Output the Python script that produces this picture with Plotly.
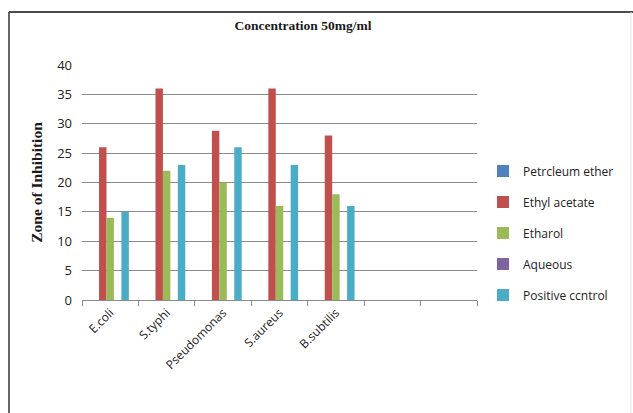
import plotly.graph_objects as go

categories = ["E.coli", "S.typhi", "Pseudomonas", "S.aureus", "B.subtilis"]
axis_slots = ["E.coli", "S.typhi", "Pseudomonas", "S.aureus", "B.subtilis", " ", "  "]
series_names = ["Petrcleum ether", "Ethyl acetate", "Etharol", "Aqueous", "Positive ccntrol"]
petroleum_ether = [0, 0, 0, 0, 0]
ethyl_acetate = [26, 36, 28.8, 36, 28]
ethanol = [14, 22, 20, 16, 18]
aqueous = [0, 0, 0, 0, 0]
positive_control = [15, 23, 26, 23, 16]
colors = ["#4F81BD", "#C0504D", "#9BBB59", "#8064A2", "#4BACC6"]
y_ticks = [0, 5, 10, 15, 20, 25, 30, 35, 40]

W, H = 633, 413
L, R, T, B = 82, 156, 65, 113
pw, ph = W - L - R, H - T - B

def px(x):
    return (x - L) / pw

def py(y):
    return (H - B - y) / ph

fig = go.Figure()
for i, (name, vals) in enumerate(zip(series_names, [petroleum_ether, ethyl_acetate, ethanol, aqueous, positive_control])):
    fig.add_trace(go.Bar(x=categories, y=vals, name=name, marker_color=colors[i],
                         marker_line_width=0, legendgroup=f"g{i}"))

fig.update_layout(
    width=W, height=H,
    margin=dict(l=L, r=R, t=T, b=B, pad=0),
    paper_bgcolor="white", plot_bgcolor="white",
    barmode="group", bargap=0.34, bargroupgap=0,
    title=dict(text="<b>Concentration 50mg/ml</b>", x=px(303), xref="paper", xanchor="center",
               y=1 - 25 / H, yanchor="middle",
               font=dict(family="Liberation Serif", size=13.5, color="#1a1a1a")),
    font=dict(family="Open Sans", size=12, color="#222"),
    xaxis=dict(type="category", categoryorder="array", categoryarray=axis_slots,
               range=[-0.5, 6.5], showline=True, linecolor="#8a8a8a", linewidth=1,
               ticks="outside", tickson="boundaries", ticklen=5, tickcolor="#8a8a8a",
               tickangle=-45, showgrid=False, tickfont=dict(family="Open Sans", size=12, color="#222")),
    yaxis=dict(range=[0, 40], tickvals=y_ticks, showgrid=True, gridcolor="#8a8a8a", gridwidth=1,
               zeroline=False, showline=False, ticks="", ticklabelstandoff=9,
               tickfont=dict(family="Open Sans", size=13, color="#222"),
               title=dict(text="<b>Zone of Inhibition</b>", standoff=10,
                          font=dict(family="Liberation Serif", size=15.5, color="#1a1a1a"))),
    legend=dict(x=px(483), xanchor="left", y=py(233), yanchor="middle",
                traceorder="grouped", tracegroupgap=12, itemwidth=30,
                font=dict(family="Open Sans", size=12, color="#222"),
                bgcolor="rgba(0,0,0,0)"),
    showlegend=True,
    shapes=[
        dict(type="line", xref="paper", yref="paper", x0=px(9), x1=px(633), y0=py(12), y1=py(12),
             line=dict(color="#111", width=1.5)),
        dict(type="line", xref="paper", yref="paper", x0=px(9), x1=px(9), y0=py(12), y1=py(413),
             line=dict(color="#333", width=1.5)),
        dict(type="line", xref="paper", yref="paper", x0=px(631), x1=px(631), y0=py(12), y1=py(413),
             line=dict(color="#e6e6e6", width=1)),
    ],
)

fig.write_html("out.html")
